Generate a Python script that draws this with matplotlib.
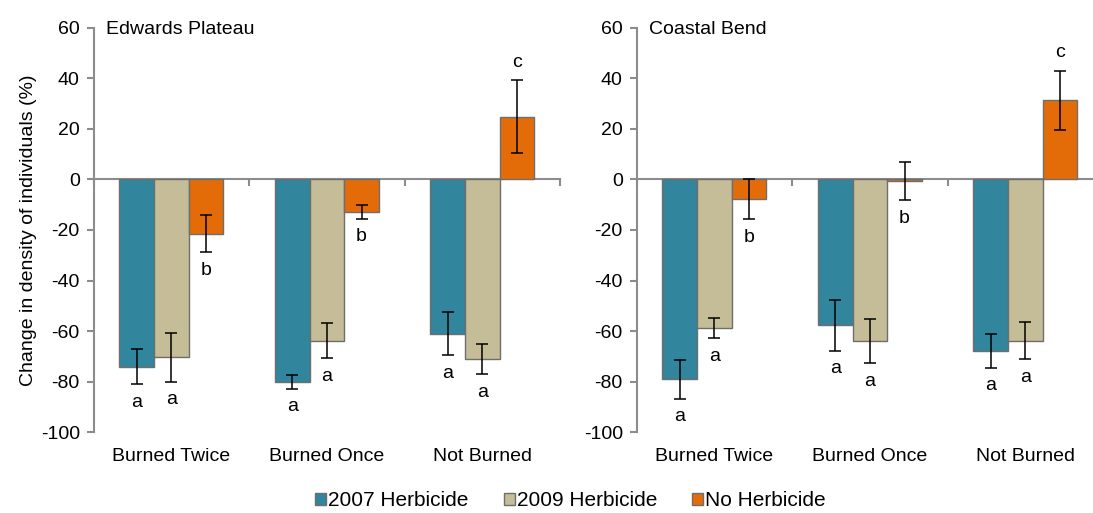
import numpy as np
import matplotlib.pyplot as plt
from matplotlib.transforms import blended_transform_factory

plt.rcParams['font.family'] = ['Liberation Sans', 'DejaVu Sans']
plt.rcParams['axes.unicode_minus'] = False

categories = ['Burned Twice', 'Burned Once', 'Not Burned']
series = ['2007 Herbicide', '2009 Herbicide', 'No Herbicide']
colors = ['#31859C', '#C4BD97', '#E36C09']

# Edwards Plateau: values and standard errors per series
ep_vals = {'2007 Herbicide': [-74.0, -80.0, -61.0],
           '2009 Herbicide': [-70.3, -63.8, -71.0],
           'No Herbicide': [-21.5, -12.8, 24.8]}
ep_err = {'2007 Herbicide': [7.0, 2.7, 8.4],
          '2009 Herbicide': [9.7, 7.0, 6.0],
          'No Herbicide': [7.2, 2.7, 14.3]}
ep_letters = {'2007 Herbicide': ['a', 'a', 'a'],
              '2009 Herbicide': ['a', 'a', 'a'],
              'No Herbicide': ['b', 'b', 'c']}

# Coastal Bend
cb_vals = {'2007 Herbicide': [-79.0, -57.7, -67.7],
           '2009 Herbicide': [-58.8, -63.9, -63.9],
           'No Herbicide': [-7.8, -0.7, 31.2]}
cb_err = {'2007 Herbicide': [7.7, 10.0, 6.7],
          '2009 Herbicide': [4.0, 8.7, 7.3],
          'No Herbicide': [8.0, 7.5, 11.6]}
cb_letters = {'2007 Herbicide': ['a', 'a', 'a'],
              '2009 Herbicide': ['a', 'a', 'a'],
              'No Herbicide': ['b', 'b', 'c']}

W, H = 1093, 513
fig = plt.figure(figsize=(W / 100, H / 100), dpi=100)

axis_gray = '#8c8c8c'
fs = 14
bw = 0.223


def panel(ax, vals, errs, letters, title):
    x = np.arange(len(categories))
    for i, s in enumerate(series):
        xs = x + (i - 1) * bw
        ax.bar(xs, vals[s], width=bw, color=colors[i], edgecolor='#6e6e6e',
               linewidth=1.0, zorder=2, label=s)
        ax.errorbar(xs, vals[s], yerr=errs[s], fmt='none', ecolor='black',
                    elinewidth=1.1, capsize=4, capthick=1.1, zorder=3)
        for xi, v, e, lt in zip(xs, vals[s], errs[s], letters[s]):
            y = v + e + 7.2 if v > 0 else v - e - 7.2
            ax.text(xi, y, lt, ha='center', va='center', fontsize=fs)
    ax.set_xlim(-0.5, 2.5)
    ax.set_ylim(-100, 60)
    ax.set_yticks(np.arange(-100, 61, 20))
    ax.set_xticks(np.arange(-0.5, 2.6, 1.0))
    ax.set_xticklabels([])
    ax.tick_params(axis='x', direction='out', length=5, width=1.5, color=axis_gray)
    ax.tick_params(axis='y', direction='out', length=5, width=1.5, color=axis_gray,
                   labelsize=fs, pad=5)
    for sp in ['top', 'right']:
        ax.spines[sp].set_visible(False)
    ax.spines['bottom'].set_position(('data', 0))
    for sp in ['left', 'bottom']:
        ax.spines[sp].set_color(axis_gray)
        ax.spines[sp].set_linewidth(1.5)
        ax.spines[sp].set_zorder(1)
    trans = blended_transform_factory(ax.transData, ax.transAxes)
    for xi, c in zip(x, categories):
        ax.text(xi, -0.061, c, transform=trans, ha='center', va='center', fontsize=fs)
    ax.text(0.027, 0.995, title, transform=ax.transAxes, ha='left', va='center',
            fontsize=fs)


bottom = (H - 432.3) / H
height = (432.3 - 27.5) / H
width = 466.3 / W
ax1 = fig.add_axes([93.7 / W, bottom, width, height])
ax2 = fig.add_axes([636.7 / W, bottom, width, height])
panel(ax1, ep_vals, ep_err, ep_letters, 'Edwards Plateau')
panel(ax2, cb_vals, cb_err, cb_letters, 'Coastal Bend')
ax1.set_ylabel('Change in density of individuals (%)', fontsize=fs, labelpad=3)

handles, labels = ax1.get_legend_handles_labels()
fig.legend(handles, labels, loc='center', bbox_to_anchor=(0.522, 0.024), ncol=3,
           frameon=False, fontsize=15, handlelength=0.53, handleheight=0.53,
           handletextpad=0.1, columnspacing=1.68)

fig.savefig('out.png', dpi=100)
